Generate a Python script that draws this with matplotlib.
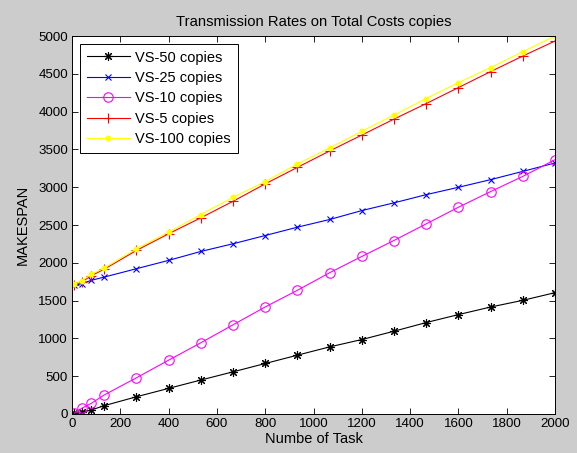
import matplotlib
matplotlib.use("Agg")
import matplotlib.pyplot as plt

# number of tasks on the x axis
tasks = [10, 40, 80, 133, 267, 400, 533, 667, 800, 933, 1067, 1200,
         1333, 1467, 1600, 1733, 1867, 2000]

vs50 = [8, 22, 53, 110, 228, 339, 449, 558, 668, 778, 888, 985,
        1095, 1210, 1315, 1415, 1504, 1605]
vs25 = [1702, 1724, 1768, 1811, 1922, 2032, 2150, 2252, 2361, 2471, 2573, 2691,
        2793, 2902, 2999, 3100, 3210, 3321]
vs10 = [12, 75, 141, 251, 479, 712, 941, 1180, 1416, 1636, 1869, 2084,
        2295, 2516, 2735, 2942, 3144, 3364]
vs5 = [1710, 1745, 1830, 1915, 2164, 2384, 2595, 2814, 3044, 3262, 3480, 3690,
       3901, 4107, 4318, 4529, 4736, 4934]
vs100 = [1715, 1760, 1847, 1930, 2186, 2405, 2638, 2867, 3074, 3307, 3520, 3740,
         3954, 4173, 4384, 4582, 4793, 5000]

xticks = list(range(0, 2001, 200))
yticks = list(range(0, 5001, 500))

plt.rcParams["font.family"] = ["Liberation Sans", "DejaVu Sans"]
plt.rcParams["font.size"] = 9.6

fig = plt.figure(figsize=(5.77, 4.53), dpi=100, facecolor="#cccccc")
ax = fig.add_axes([0.1248, 0.0861, 0.962 - 0.1248, 0.9205 - 0.0861])

asterisk = (8, 2, 0)
ax.plot(tasks, vs50, color="black", lw=0.8, marker=asterisk, ms=6.5, mew=0.8, label="VS-50 copies")
ax.plot(tasks, vs25, color="blue", lw=0.8, marker="x", ms=4.5, mew=0.8, label="VS-25 copies")
ax.plot(tasks, vs10, color="magenta", lw=0.8, marker="o", ms=6.8, mew=0.8,
        mfc="none", label="VS-10 copies")
ax.plot(tasks, vs5, color="red", lw=0.8, marker="+", ms=7, mew=0.8, label="VS-5 copies")
ax.plot(tasks, vs100, color="yellow", lw=0.8, marker=".", ms=6.5, label="VS-100 copies")

ax.set_xlim(0, 2000)
ax.set_ylim(0, 5000)
ax.set_xticks(xticks)
ax.set_yticks(yticks)
ax.tick_params(direction="in", top=True, right=True, length=4, width=0.6, pad=3)
for s in ax.spines.values():
    s.set_linewidth(0.7)

ax.set_title("Transmission Rates on Total Costs copies", fontsize=10.6, pad=7)
ax.set_xlabel("Numbe of Task", fontsize=10.5, labelpad=1)
ax.set_ylabel("MAKESPAN", fontsize=10.5, labelpad=6)

leg = ax.legend(loc="upper left", fontsize=10.5, fancybox=False, edgecolor="black",
                framealpha=1, handlelength=3.0, handletextpad=0.35, labelspacing=0.44,
                borderaxespad=0.55, borderpad=0.45)
leg.get_frame().set_linewidth(0.7)

fig.savefig("out.png", dpi=100, facecolor=fig.get_facecolor())
